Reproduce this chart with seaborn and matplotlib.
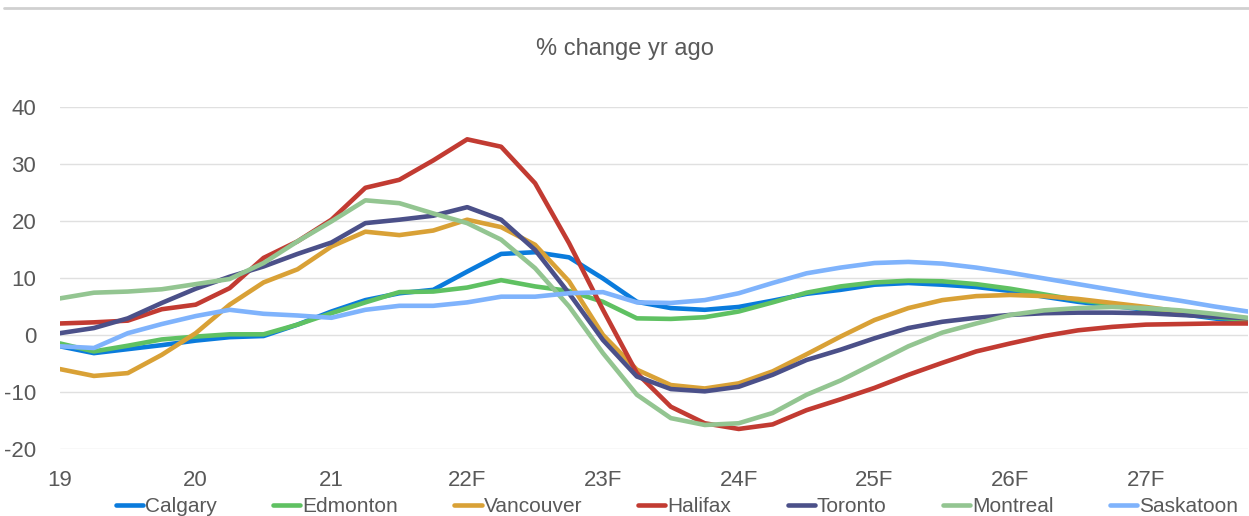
import matplotlib
matplotlib.use("Agg")
import matplotlib.pyplot as plt
import matplotlib.lines as mlines
import seaborn as sns
import pandas as pd
import numpy as np

quarters = [f"{y}Q{q}" for y in range(19, 28) for q in range(1, 5)]
tick_labels = ["19", "20", "21", "22F", "23F", "24F", "25F", "26F", "27F"]

calgary = [-2.0, -3.2, -2.5, -1.8, -1.0, -0.4, -0.2, 1.8, 4.1, 6.1, 7.3, 7.9,
           11.1, 14.2, 14.5, 13.6, 9.9, 5.8, 4.7, 4.4, 4.9, 6.0, 7.2, 7.9,
           8.8, 9.1, 8.8, 8.4, 7.7, 6.7, 5.8, 5.1, 4.4, 3.7, 2.9, 2.1]
edmonton = [-1.5, -2.9, -1.9, -0.8, -0.3, 0.1, 0.1, 1.8, 3.8, 5.7, 7.5, 7.6,
            8.3, 9.6, 8.5, 7.7, 5.8, 2.9, 2.8, 3.1, 4.1, 5.7, 7.4, 8.5,
            9.2, 9.5, 9.4, 8.9, 8.1, 7.1, 6.1, 5.4, 4.5, 3.8, 3.1, 2.6]
vancouver = [-6.0, -7.2, -6.7, -3.5, 0.3, 5.3, 9.2, 11.5, 15.5, 18.1, 17.5, 18.3,
             20.2, 18.9, 15.8, 9.4, 0.0, -6.1, -8.8, -9.4, -8.5, -6.4, -3.4, -0.3,
             2.6, 4.7, 6.1, 6.8, 7.0, 6.8, 6.3, 5.6, 4.9, 4.1, 3.4, 2.8]
halifax = [2.0, 2.2, 2.5, 4.5, 5.3, 8.2, 13.5, 16.4, 20.2, 25.8, 27.2, 30.6,
           34.3, 33.0, 26.6, 16.1, 4.4, -6.7, -12.6, -15.5, -16.5, -15.7, -13.2, -11.3,
           -9.3, -7.0, -4.9, -2.9, -1.5, -0.2, 0.8, 1.4, 1.8, 1.9, 2.0, 2.0]
toronto = [0.3, 1.2, 2.9, 5.6, 8.1, 10.2, 12.0, 14.2, 16.2, 19.6, 20.2, 20.9,
           22.4, 20.2, 14.9, 7.3, -0.9, -7.3, -9.5, -9.9, -9.1, -7.0, -4.4, -2.6,
           -0.6, 1.2, 2.3, 3.0, 3.5, 3.8, 3.9, 3.9, 3.8, 3.5, 3.2, 2.9]
montreal = [6.4, 7.4, 7.6, 8.0, 8.9, 9.8, 12.6, 16.4, 19.9, 23.6, 23.1, 21.3,
            19.6, 16.7, 11.7, 5.0, -3.2, -10.5, -14.6, -15.8, -15.5, -13.7, -10.5, -8.0,
            -5.0, -2.0, 0.4, 2.0, 3.5, 4.3, 4.7, 4.9, 4.7, 4.3, 3.7, 3.0]
saskatoon = [-2.0, -2.3, 0.3, 1.9, 3.3, 4.4, 3.7, 3.4, 3.0, 4.4, 5.1, 5.1,
             5.7, 6.7, 6.7, 7.3, 7.5, 5.7, 5.6, 6.1, 7.3, 9.1, 10.8, 11.8,
             12.6, 12.8, 12.5, 11.8, 10.9, 9.9, 8.9, 7.9, 6.9, 6.0, 5.0, 4.1]

cities = ["Calgary", "Edmonton", "Vancouver", "Halifax", "Toronto", "Montreal", "Saskatoon"]
series = [calgary, edmonton, vancouver, halifax, toronto, montreal, saskatoon]
colors = ["#0A7BDC", "#5FC162", "#D9A136", "#C23B32", "#4B5089", "#93C591", "#7FB3FC"]

rows = []
for city, vals in zip(cities, series):
    for i, v in enumerate(vals):
        rows.append({"idx": i, "value": v, "city": city})
df = pd.DataFrame(rows)

sns.set_theme(style="white")
plt.rcParams["font.family"] = ["Liberation Sans", "DejaVu Sans"]
plt.rcParams["axes.unicode_minus"] = False

fig = plt.figure(figsize=(12.49, 5.16), dpi=100)
ax = fig.add_axes([0.048, 0.130, 0.951, 0.663])

sns.lineplot(data=df, x="idx", y="value", hue="city", hue_order=cities,
             palette=dict(zip(cities, colors)), linewidth=3.3, ax=ax, legend=False,
             sort=False)

ax.set_xlim(0, 35)
ax.set_ylim(-20, 40)
ax.set_yticks(range(-20, 41, 10))
ax.set_xticks(range(0, 36, 4))
ax.set_xticklabels(tick_labels)
ax.grid(axis="y", color="#e0e0e0", linewidth=1.0)
ax.set_axisbelow(True)
for s in ax.spines.values():
    s.set_visible(False)
ax.tick_params(axis="both", length=0, labelsize=16, labelcolor="#595959")
ax.tick_params(axis="y", pad=17)
ax.tick_params(axis="x", pad=15)
ax.set_xlabel("")
ax.set_ylabel("")

fig.text(0.5, 0.905, "% change yr ago", ha="center", va="center", fontsize=17, color="#595959")
fig.add_artist(mlines.Line2D([0.003, 1.0], [0.984, 0.984], color="#d0d0d0", linewidth=2))

handles = [mlines.Line2D([], [], color=c, linewidth=3.3, solid_capstyle="round") for c in colors]
leg = fig.legend(handles, cities, loc="center", bbox_to_anchor=(0.542, 0.018), ncol=7,
                 frameon=False, fontsize=15, handlelength=1.3, handletextpad=0.1,
                 columnspacing=2.7, borderaxespad=0)
for t in leg.get_texts():
    t.set_color("#595959")

fig.savefig("out.png", dpi=100)
